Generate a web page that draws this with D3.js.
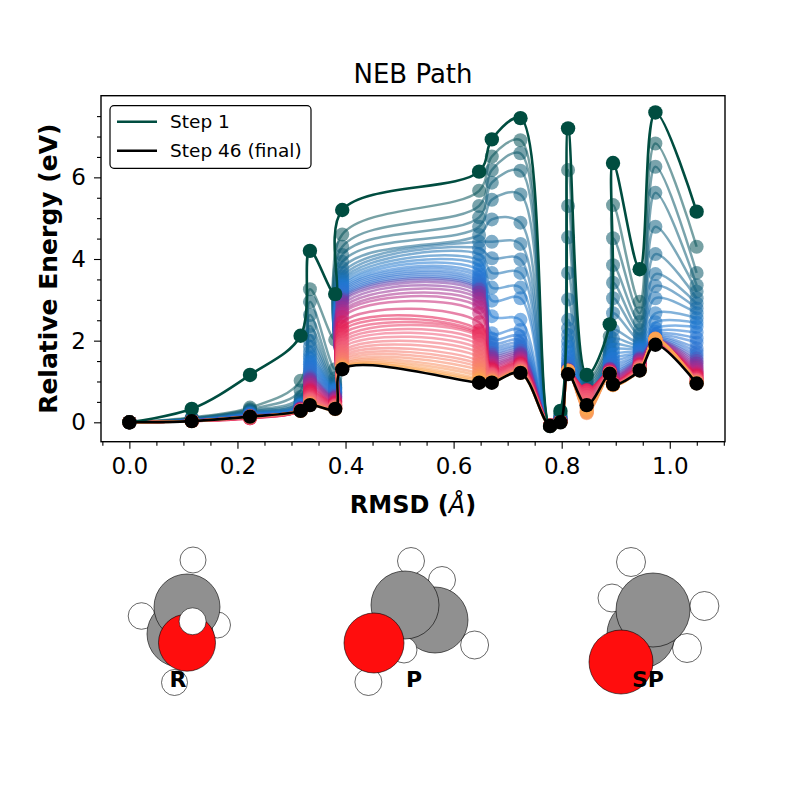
<!DOCTYPE html>
<html>
<head>
<meta charset="utf-8">
<script src="https://cdn.jsdelivr.net/npm/d3@7"></script>
<style>
body { margin: 0; background: #fff; }
text { font-family: "DejaVu Sans", sans-serif; }
</style>
</head>
<body>
<div id="chart-area"></div>
<script>
// NEB images (shared RMSD positions) and energies per step
var rmsd = [0.0, 0.1154, 0.2232, 0.3169, 0.3341, 0.3809, 0.3939, 0.6472, 0.6707, 0.7237,
            0.7785, 0.7977, 0.8118, 0.8463, 0.8889, 0.8950, 0.9443, 0.9734, 1.0497];

var stepFirst = [0.0, 0.33, 1.16, 2.12, 4.20, 3.14, 5.20, 6.14, 6.93, 7.45,
                 -0.09, 0.28, 7.20, 1.16, 2.40, 6.35, 3.75, 7.59, 5.16];

var stepFinal = [0.0, 0.03, 0.14, 0.28, 0.42, 0.33, 1.30, 0.97, 0.97, 1.21,
                 -0.09, 0.00, 1.18, 0.42, 1.19, 0.93, 1.27, 1.90, 0.95];

// intermediate steps 2..45, one row per image
var interByImage = [
  [0,0,0,0,0,0,0,0,0,0, 0,0,0,0,0,0,0,0,0, 0,0,0,0,0, 0,0,0,0,0,0, 0,0,0,0,0,0,0,0, 0,0,0,0,0,0],
  [.12,.10,.09,.08,.07,.07,.06,.06,.05,.05, .05,.05,.05,.04,.04,.04,.04,.04,.04, .04,.04,.04,.04,.04, .03,.03,.03,.03,.03,.03, .03,.03,.03,.03,.03,.03,.03,.03, .03,.03,.03,.03,.03,.03],
  [.36,.32,.29,.27,.25,.24,.23,.22,.21,.20, .20,.19,.19,.18,.18,.17,.17,.16,.16, .15,.15,.14,.14,.13, .12,.11,.10,.10,.10,.11, .11,.12,.12,.12,.13,.13,.13,.13, .14,.14,.14,.14,.14,.14],
  [1.02,.78,.62,.55,.51,.48,.46,.44,.43,.42, .41,.40,.39,.38,.37,.36,.35,.35,.34, .34,.33,.33,.32,.32, .31,.31,.30,.30,.30,.29, .29,.29,.29,.29,.29,.29,.29,.29, .28,.28,.28,.28,.28,.28],
  [3.26,2.95,2.63,2.36,2.14,2.00,1.85,1.72,1.62,1.55, 1.48,1.42,1.36,1.31,1.26,1.21,1.16,1.12,1.08, 1.04,1.00,.96,.92,.88, .84,.80,.76,.72,.68,.64, .61,.58,.56,.54,.52,.50,.48,.47, .46,.45,.44,.44,.43,.43],
  [2.02,1.30,1.08,.99,.94,.90,.87,.85,.83,.81, .79,.77,.75,.73,.71,.69,.67,.65,.63, .61,.59,.57,.55,.53, .51,.49,.47,.45,.43,.42, .41,.40,.39,.38,.37,.36,.35,.35, .34,.34,.33,.33,.33,.32],
  [4.60,4.30,4.10,3.93,3.78,3.66,3.57,3.50,3.44,3.38, 3.33,3.28,3.24,3.20,3.16,3.12,3.08,3.04,3.00, 2.95,2.88,2.80,2.72,2.66, 2.58,2.45,2.34,2.25,2.15,2.05, 1.97,1.90,1.82,1.74,1.67,1.60,1.54,1.48, 1.43,1.40,1.37,1.35,1.33,1.32],
  [5.67,5.30,5.02,4.79,4.59,4.42,4.26,4.12,3.97,3.85, 3.73,3.62,3.55,3.48,3.42,3.37,3.32,3.28,3.24, 3.18,3.10,3.02,2.92,2.82, 2.68,2.45,2.25,2.18,2.14,2.10, 2.00,1.90,1.80,1.70,1.60,1.50,1.42,1.35, 1.28,1.20,1.14,1.08,1.04,1.01],
  [6.51,6.18,5.87,5.45,4.97,4.42,4.02,3.66,3.30,2.98, 2.60,2.18,2.05,1.95,1.88,1.82,1.76,1.70,1.65, 1.60,1.55,1.50,1.46,1.42, 1.38,1.34,1.30,1.27,1.24,1.21, 1.19,1.17,1.15,1.13,1.11,1.09,1.07,1.05, 1.04,1.02,1.01,1.00,.99,.98],
  [6.91,6.59,6.16,5.58,4.89,4.37,3.99,3.66,3.30,3.04, 2.51,2.26,2.10,2.00,1.92,1.85,1.80,1.75,1.70, 1.66,1.62,1.58,1.55,1.52, 1.49,1.46,1.43,1.41,1.39,1.37, 1.35,1.33,1.31,1.30,1.28,1.27,1.26,1.25, 1.24,1.23,1.22,1.22,1.21,1.21],
  [-.09,-.09,-.09,-.09,-.09,-.09,-.09,-.09,-.09,-.09, -.09,-.09,-.09,-.09,-.09,-.08,-.08,-.08,-.08, -.08,-.08,-.08,-.08,-.08, -.07,-.07,-.07,-.07,-.07,-.07, -.08,-.08,-.08,-.08,-.08,-.08,-.08,-.08, -.09,-.09,-.09,-.09,-.09,-.09],
  [.22,.18,.15,.13,.11,.10,.09,.08,.07,.06, .06,.05,.05,.05,.04,.04,.04,.03,.03, .03,.03,.03,.02,.02, .02,.02,.02,.02,.02,.02, .01,.01,.01,.01,.01,.01,.01,.01, .01,.01,.01,.01,.01,.01],
  [6.18,5.30,4.53,3.66,3.01,2.51,2.30,2.14,1.98,1.85, 1.72,1.61,1.52,1.44,1.40,1.36,1.33,1.31,1.29, 1.28,1.27,1.26,1.25,1.25, 1.24,1.24,1.23,1.23,1.22,1.22, 1.22,1.22,1.23,1.23,1.24,1.24,1.25,1.25, 1.26,1.26,1.27,1.27,1.26,1.25],
  [1.05,.98,.92,.86,.80,.75,.70,.66,.62,.59, .57,.56,.55,.55,.56,.58,.60,.62,.64, .66,.68,.70,.72,.74, .76,.78,.79,.78,.76,.73, .68,.62,.56,.50,.44,.38,.33,.29, .26,.24,.22,.24,.28,.34],
  [2.10,1.95,1.85,1.78,1.72,1.67,1.62,1.58,1.54,1.50, 1.47,1.44,1.42,1.40,1.38,1.36,1.34,1.32,1.31, 1.30,1.29,1.28,1.27,1.26, 1.25,1.24,1.24,1.23,1.23,1.22, 1.22,1.21,1.21,1.21,1.20,1.20,1.20,1.20, 1.19,1.19,1.19,1.18,1.18,1.18],
  [5.32,4.51,3.85,3.42,3.04,2.67,2.26,2.05,1.90,1.78, 1.66,1.56,1.48,1.41,1.35,1.29,1.24,1.20,1.16, 1.13,1.10,1.08,1.06,1.04, 1.02,1.00,.99,.98,.97,.96, .95,.95,.94,.94,.93,.93,.93,.92, .92,.92,.92,.91,.91,.91],
  [2.95,2.67,2.46,2.26,2.15,2.05,1.98,1.92,1.87,1.83, 1.79,1.75,1.72,1.69,1.66,1.63,1.60,1.58,1.56, 1.54,1.52,1.50,1.48,1.46, 1.44,1.42,1.40,1.39,1.38,1.37, 1.36,1.35,1.34,1.33,1.32,1.31,1.30,1.30, 1.29,1.29,1.28,1.28,1.27,1.27],
  [6.83,6.26,5.62,4.79,4.12,3.63,3.34,3.04,2.67,2.45, 2.30,2.22,2.16,2.12,2.09,2.07,2.05,2.03,2.02, 2.01,2.00,1.99,1.98,1.98, 1.97,1.97,1.96,1.96,1.96,1.96, 1.97,1.98,1.99,2.00,2.01,2.02,2.03,2.03, 2.04,2.04,2.05,2.05,2.04,2.03],
  [4.30,3.66,3.36,3.20,3.04,2.91,2.79,2.67,2.55,2.44, 2.34,2.20,2.06,1.95,1.81,1.72,1.64,1.56,1.50, 1.44,1.38,1.33,1.28,1.24, 1.20,1.17,1.14,1.11,1.09,1.07, 1.05,1.04,1.03,1.02,1.01,1.00,.99,.98, .98,.97,.97,.96,.96,.95]
];

var xTicks = [0.0, 0.2, 0.4, 0.6, 0.8, 1.0];
var xMinor = [-0.05, 0.05, 0.1, 0.15, 0.25, 0.3, 0.35, 0.45, 0.5, 0.55, 0.65, 0.7, 0.75, 0.85, 0.9, 0.95, 1.05, 1.1];
var yTicks = [0, 2, 4, 6];
var yMinor = [0.5, 1, 1.5, 2.5, 3, 3.5, 4.5, 5, 5.5, 6.5, 7, 7.5];
var legendLabels = ["Step 1", "Step 46 (final)"];

// molecule snapshots: atoms drawn back to front, offsets from each snapshot centre
var molecules = ["R", "P", "SP"];
var moleculeAtoms = {
  R: [["H",-5.5,62.5,13],["H",37.5,5,13],["H",-38.5,-4,13.3],["H",13,-60,13],
      ["C",0,14,33],["C",7,-13,33],["O",7,22.7,28.5],["H",12.6,1.3,13.5]],
  P: [["H",27,-40,13.5],["H",59.6,25,14],["C",20,0,33],["H",-11,30,13],
      ["H",-4,-59,13.5],["C",-10,-15,34],["H",-46.6,62,13.5],["O",-41,23,30]],
  SP: [["H",-19,-58,14.5],["H",-38,-22,14],["H",37,28,14.5],["C",-9,14,34],
       ["H",54.4,-14,14.5],["C",3,-10,37],["O",-29,42,32]]
};
var elementColor = {H: "#ffffff", C: "#909090", O: "#ff0d0d"};

var svg = d3.select("#chart-area")
  .append("svg")
    .attr("width", 805)
    .attr("height", 805);

svg.append("rect").attr("width", 805).attr("height", 805).attr("fill", "#fff");

var plot = {left: 101, right: 725, top: 95.7, bottom: 441.7};

var x = d3.scaleLinear()
  .domain([-0.0525, 1.1022])
  .range([plot.left, plot.right]);

var y = d3.scaleLinear()
  .domain([-0.475, 8.0])
  .range([plot.bottom, plot.top]);

var stepColor = d3.scaleLinear()
  .domain([2, 7, 12, 18, 21, 25, 28, 33, 39, 45])
  .range(["#08535a", "#17699a", "#1f78d1", "#3170d0", "#7a35a0", "#b72a86",
          "#e3174f", "#f05a78", "#f7806a", "#fdaa4c"])
  .interpolate(d3.interpolateRgb);

var steps = d3.transpose(interByImage);

var line = d3.line()
  .x(function(d, i) { return x(rmsd[i]); })
  .y(function(d) { return y(d); })
  .curve(d3.curveCatmullRom.alpha(0.5));

var g = svg.append("g");

function drawStep(values, color, opacity, lw, r) {
  var s = g.append("g");
  s.append("path")
    .attr("d", line(values))
    .attr("fill", "none")
    .attr("stroke", color)
    .attr("stroke-opacity", opacity)
    .attr("stroke-width", lw)
    .attr("stroke-linejoin", "round");
  s.selectAll("circle")
    .data(values)
    .enter()
    .append("circle")
      .attr("cx", function(d, i) { return x(rmsd[i]); })
      .attr("cy", function(d) { return y(d); })
      .attr("r", r)
      .attr("fill", color)
      .attr("fill-opacity", opacity);
}

steps.forEach(function(values, k) {
  drawStep(values, stepColor(k + 2), 0.55, 2.5, 7);
});
drawStep(stepFirst, "#004d40", 1, 2.6, 7.2);
drawStep(stepFinal, "#000000", 1, 2.6, 7.2);

// axes
var xAxisCall = d3.axisBottom(x).tickValues(xTicks).tickFormat(d3.format(".1f"))
  .tickSize(7).tickPadding(9);
svg.append("g")
  .attr("transform", "translate(0," + plot.bottom + ")")
  .call(xAxisCall);
svg.append("g")
  .attr("transform", "translate(0," + plot.bottom + ")")
  .call(d3.axisBottom(x).tickValues(xMinor).tickFormat("").tickSize(4));

var yAxisCall = d3.axisLeft(y).tickValues(yTicks).tickSize(7).tickPadding(8);
svg.append("g")
  .attr("transform", "translate(" + plot.left + ",0)")
  .call(yAxisCall);
svg.append("g")
  .attr("transform", "translate(" + plot.left + ",0)")
  .call(d3.axisLeft(y).tickValues(yMinor).tickFormat("").tickSize(4));

svg.selectAll(".domain").remove();
svg.selectAll(".tick line").attr("stroke", "#000").attr("stroke-width", 1.1);
svg.selectAll(".tick text")
  .attr("font-family", "DejaVu Sans")
  .attr("font-size", 23)
  .attr("fill", "#000");

svg.append("rect")
  .attr("x", plot.left).attr("y", plot.top)
  .attr("width", plot.right - plot.left)
  .attr("height", plot.bottom - plot.top)
  .attr("fill", "none")
  .attr("stroke", "#000")
  .attr("stroke-width", 1.4);

// labels
svg.append("text")
  .attr("x", (plot.left + plot.right) / 2).attr("y", 83.3)
  .attr("text-anchor", "middle")
  .attr("font-size", 26)
  .text("NEB Path");

var xl = svg.append("text")
  .attr("x", (plot.left + plot.right) / 2).attr("y", 513)
  .attr("text-anchor", "middle")
  .attr("font-size", 24)
  .attr("font-weight", "bold");
xl.append("tspan").text("RMSD (");
xl.append("tspan").attr("font-style", "italic").attr("font-weight", "normal").text("Å");
xl.append("tspan").text(")");

svg.append("text")
  .attr("transform", "translate(57," + ((plot.top + plot.bottom) / 2) + ") rotate(-90)")
  .attr("text-anchor", "middle")
  .attr("font-size", 25)
  .attr("font-weight", "bold")
  .text("Relative Energy (eV)");

// legend
var legend = svg.append("g");
legend.append("rect")
  .attr("x", 110).attr("y", 105.7)
  .attr("width", 201).attr("height", 62.6)
  .attr("rx", 4)
  .attr("fill", "#fff")
  .attr("stroke", "#000")
  .attr("stroke-width", 1.2);
var legendColors = ["#004d40", "#000000"];
legendLabels.forEach(function(lbl, i) {
  var ly = 121.7 + i * 29;
  legend.append("line")
    .attr("x1", 117).attr("x2", 157)
    .attr("y1", ly).attr("y2", ly)
    .attr("stroke", legendColors[i])
    .attr("stroke-width", 2.6);
  legend.append("text")
    .attr("x", 170).attr("y", ly + 6.5)
    .attr("font-size", 18.5)
    .text(lbl);
});

// molecule snapshots
var mx = d3.scalePoint().domain(molecules).range([180, 650]);
var my = 620;
molecules.forEach(function(m) {
  var mg = svg.append("g")
    .attr("transform", "translate(" + mx(m) + "," + my + ")");
  mg.selectAll("circle")
    .data(moleculeAtoms[m])
    .enter()
    .append("circle")
      .attr("cx", function(a) { return a[1]; })
      .attr("cy", function(a) { return a[2]; })
      .attr("r", function(a) { return a[3]; })
      .attr("fill", function(a) { return elementColor[a[0]]; })
      .attr("stroke", "#000")
      .attr("stroke-width", 0.6);
  mg.append("text")
    .attr("x", m === "P" ? -1 : -2)
    .attr("y", 67)
    .attr("text-anchor", "middle")
    .attr("font-size", 22)
    .attr("font-weight", "bold")
    .text(m);
});
</script>
</body>
</html>
